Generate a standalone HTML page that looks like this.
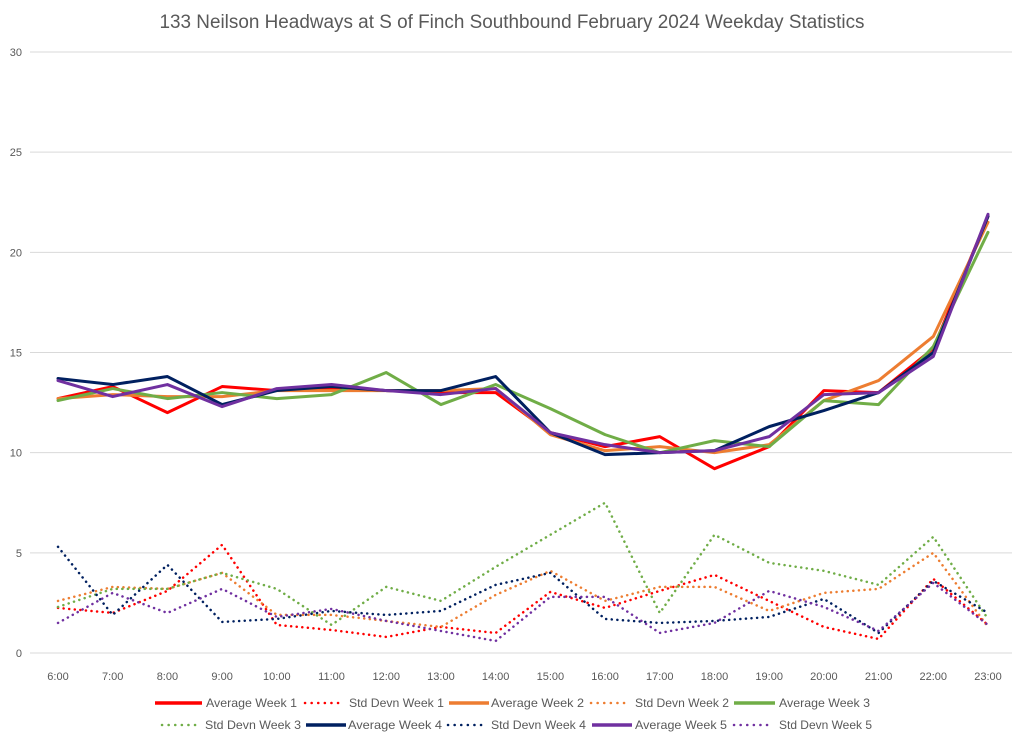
<!DOCTYPE html>
<html><head><meta charset="utf-8"><style>
body{margin:0;background:#fff;font-family:"Liberation Sans",sans-serif}
svg text{font-family:"Liberation Sans",sans-serif;fill:#595959}
</style></head><body>
<svg id="chart" width="1024" height="740">
<text x="512" y="28" text-anchor="middle" font-size="19" textLength="705" lengthAdjust="spacingAndGlyphs">133 Neilson Headways at S of Finch Southbound February 2024 Weekday Statistics</text>
<g id="grid"></g><g id="series"></g><g id="legend"></g>
</svg>
<script>
const categories=["6:00","7:00","8:00","9:00","10:00","11:00","12:00","13:00","14:00","15:00","16:00","17:00","18:00","19:00","20:00","21:00","22:00","23:00"];
const yTicks=[0,5,10,15,20,25,30];
const avgW1=[12.7,13.3,12.0,13.3,13.1,13.2,13.1,13.0,13.0,11.0,10.3,10.8,9.2,10.3,13.1,13.0,15.2,21.8];
const sdW1=[2.25,2.0,3.1,5.4,1.4,1.15,0.8,1.3,1.0,3.05,2.25,3.1,3.9,2.6,1.3,0.7,3.7,1.4];
const avgW2=[12.7,12.9,12.8,12.8,13.1,13.1,13.1,13.1,13.2,10.9,10.1,10.3,10.0,10.4,12.6,13.6,15.8,21.5];
const sdW2=[2.6,3.3,3.2,4.0,1.9,1.9,1.6,1.3,2.9,4.1,2.6,3.3,3.3,2.1,3.0,3.2,5.0,1.3];
const avgW3=[12.6,13.2,12.7,13.0,12.7,12.9,14.0,12.4,13.4,12.2,10.9,10.0,10.6,10.3,12.6,12.4,15.3,21.0];
const sdW3=[2.3,3.2,3.2,4.0,3.2,1.4,3.3,2.6,4.3,5.9,7.5,2.0,5.9,4.5,4.1,3.4,5.8,1.7];
const avgW4=[13.7,13.4,13.8,12.4,13.1,13.3,13.1,13.1,13.8,11.0,9.9,10.0,10.1,11.3,12.1,13.0,15.0,21.8];
const sdW4=[5.3,1.9,4.4,1.55,1.7,2.1,1.9,2.1,3.4,4.0,1.7,1.5,1.6,1.8,2.7,1.0,3.6,2.0];
const avgW5=[13.6,12.8,13.4,12.3,13.2,13.4,13.1,12.9,13.2,11.0,10.4,10.0,10.1,10.8,12.9,13.0,14.8,21.9];
const sdW5=[1.5,3.0,2.0,3.2,1.8,2.2,1.6,1.1,0.6,2.8,2.8,1.0,1.5,3.1,2.3,1.1,3.5,1.4];
const seriesNames=["Average Week 1","Std Devn Week 1","Average Week 2","Std Devn Week 2","Average Week 3","Std Devn Week 3","Average Week 4","Std Devn Week 4","Average Week 5","Std Devn Week 5"];
const seriesData=[avgW1,sdW1,avgW2,sdW2,avgW3,sdW3,avgW4,sdW4,avgW5,sdW5];
const colors=["#ff0000","#ff0000","#ed7d31","#ed7d31","#70ad47","#70ad47","#002060","#002060","#7030a0","#7030a0"];
const NS="http://www.w3.org/2000/svg";
const x=i=>58+i*(930/(categories.length-1));
const y=v=>653-v*(601/30);
function mk(t,a,p){const e=document.createElementNS(NS,t);for(const k in a)e.setAttribute(k,a[k]);p.appendChild(e);return e;}
const grid=document.getElementById('grid');
yTicks.forEach(t=>{
 const l=mk('line',{x1:30,x2:1012,y1:y(t),y2:y(t),stroke:'#d9d9d9','stroke-width':1},grid);
 
 
 const tx=mk('text',{x:22,y:y(t)+4,'text-anchor':'end','font-size':11},grid);tx.textContent=t;
 
 
});
categories.forEach((c,i)=>{
 const tx=mk('text',{x:x(i),y:680,'text-anchor':'middle','font-size':11},grid);tx.textContent=c;
 
 
});
const sg=document.getElementById('series');
const order=[1,3,5,7,9,0,2,4,6,8];
order.forEach(s=>{
 const dotted=s%2===1;
 const pts=seriesData[s].map((v,i)=>x(i)+','+y(v)).join(' ');
 const p=mk('polyline',{points:pts,fill:'none',stroke:colors[s],'stroke-width':dotted?2.5:3,'stroke-linejoin':'round','stroke-linecap':'round'},sg);
 if(dotted)p.setAttribute('stroke-dasharray','0.1 5.5');
 
 
});
const lg=document.getElementById('legend');
// [lineStart, lineEnd, textStart, textEnd] per entry
const legPos=[[155,202,206,297],[305,340,349,444],[449,489,491,584],[591,625,635,729],[734,775,779,870],
 [162,196,205,301],[306,346,348,442],[448,482,491,586],[592,632,635,727],[734,768,779,872]];
seriesNames.forEach((n,k)=>{
 const row=Math.floor(k/5),yy=703+row*22,dotted=k%2===1,p=legPos[k];
 const g=mk('g',{},lg);
 
 
 const l=mk('line',{x1:p[0],x2:p[1],y1:yy,y2:yy,stroke:colors[k],'stroke-width':dotted?2.5:3.5,'stroke-linecap':dotted?'round':'butt'},g);
 if(dotted)l.setAttribute('stroke-dasharray','0.1 6.5');
 const t=mk('text',{x:p[2],y:yy+4,'font-size':12,textLength:p[3]-p[2],lengthAdjust:'spacingAndGlyphs'},g);t.textContent=n;
});
</script>
</body></html>
